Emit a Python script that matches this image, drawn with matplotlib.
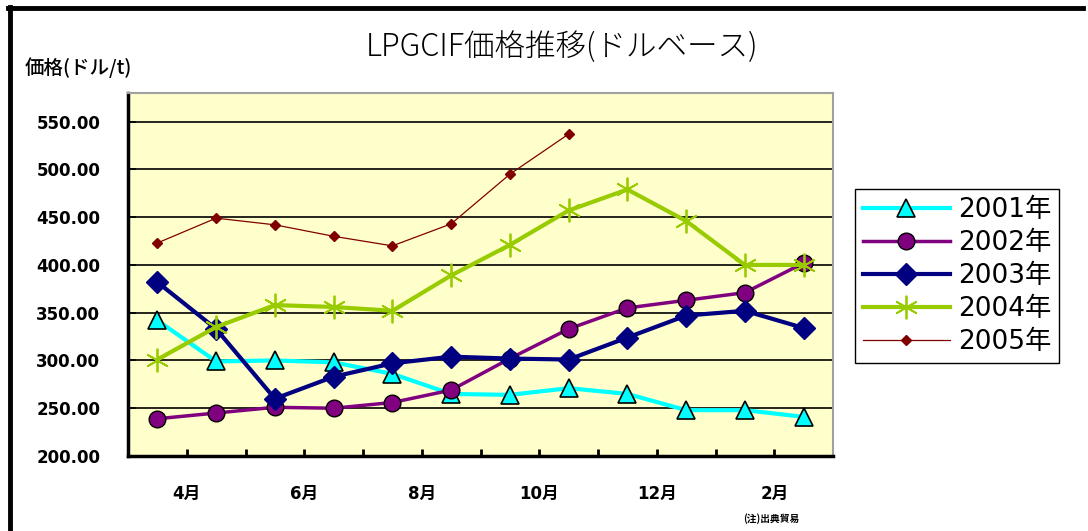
import matplotlib
matplotlib.use('Agg')
import matplotlib.pyplot as plt
from matplotlib.lines import Line2D
import numpy as np

# ---- data ----
months = ['4月', '5月', '6月', '7月', '8月', '9月', '10月', '11月', '12月', '1月', '2月', '3月']
shown_labels = ['4月', '', '6月', '', '8月', '', '10月', '', '12月', '', '2月']
yticks = [200, 250, 300, 350, 400, 450, 500, 550]
series_names = ['2001年', '2002年', '2003年', '2004年', '2005年']
s2001 = [342, 299, 300, 298, 286, 265, 264, 271, 265, 248, 248, 241]
s2002 = [239, 245, 251, 250, 256, 269, 302, 333, 355, 363, 371, 402]
s2003 = [382, 333, 260, 283, 297, 304, 302, 301, 324, 347, 352, 334]
s2004 = [301, 335, 358, 356, 352, 389, 421, 457, 479, 446, 400, 400]
s2005 = [423, 449, 442, 430, 420, 443, 495, 537]

W, H = 1088, 531
fig = plt.figure(figsize=(W / 100, H / 100), dpi=100)
fig.patch.set_facecolor('white')

L, R, T, B = 128, 833, 93, 456
ax = fig.add_axes([L / W, 1 - B / H, (R - L) / W, (B - T) / H])
ax.set_facecolor('#FFFFCC')

styles = [
    dict(color='#00FFFF', lw=3, marker='^', ms=13, mfc='#00FFFF', mec='black', mew=1.2),
    dict(color='#800080', lw=2.5, marker='o', ms=12, mfc='#800080', mec='black', mew=1.0),
    dict(color='#000080', lw=3, marker='D', ms=11, mfc='#000080', mec='#000080', mew=1.0),
    dict(color='#99CC00', lw=3, marker=(6, 2, 0), ms=17, mfc='#99CC00', mec='#99CC00', mew=1.3),
    dict(color='#800000', lw=0.9, marker='D', ms=5.5, mfc='#800000', mec='#800000', mew=1.0),
]
data = [s2001, s2002, s2003, s2004, s2005]
handles = []
for i, (vals, st, name) in enumerate(zip(data, styles, series_names)):
    x = np.arange(len(vals))
    h, = ax.plot(x, vals, label=name, zorder=3 + i, clip_on=False, **st)
    handles.append(h)

ax.set_xlim(-0.5, len(months) - 0.5)
ax.set_ylim(200, 580)
ax.set_yticks(yticks)
ax.set_yticklabels([f'{v:.2f}' for v in yticks], fontsize=12, fontweight='semibold',
                   family=['DejaVu Sans'])
bounds = np.arange(len(months) - 1) + 0.5
ax.set_xticks(bounds)
ax.set_xticklabels(shown_labels, fontsize=12, fontweight='bold',
                   family=['DejaVu Sans', 'Noto Sans CJK JP'])
ax.tick_params(axis='y', direction='in', length=6, width=1.2, pad=20, colors='black')
ax.tick_params(axis='x', direction='in', length=5, width=2, pad=21, colors='black')
ax.yaxis.grid(True, color='black', lw=1.2)
ax.set_axisbelow(True)

for s in ['left', 'bottom']:
    ax.spines[s].set_color('black')
    ax.spines[s].set_linewidth(2.5)
for s in ['top', 'right']:
    ax.spines[s].set_color('#a0a0a0')
    ax.spines[s].set_linewidth(1.5)

# title and axis label
fig.text(0.517, 1 - 47 / H, 'LPGCIF価格推移(ドルベース)', ha='center', va='center',
         fontsize=22, fontweight='light', family=['Noto Sans CJK JP', 'DejaVu Sans'],
         color='black')
fig.text(25 / W, 1 - 68 / H, '価格(ドル/t)', ha='left', va='center',
         fontsize=14, fontweight='medium', family=['Noto Sans CJK JP', 'DejaVu Sans'])
fig.text(743 / W, 1 - 519 / H, '(注)出典貿易', ha='left', va='center',
         fontsize=7, fontweight='bold', family=['Noto Sans CJK JP', 'DejaVu Sans'])

leg = fig.legend(handles=handles, loc='upper left',
                 bbox_to_anchor=(855 / W, 1 - 189 / H), bbox_transform=fig.transFigure,
                 borderaxespad=0, fancybox=False, framealpha=1, edgecolor='black',
                 prop={'family': ['DejaVu Sans', 'Noto Sans CJK JP'], 'size': 19},
                 handlelength=3.3, handletextpad=0.3, labelspacing=0.27, borderpad=0.3)
leg.get_frame().set_linewidth(1.0)

# outer border (left and top)
fig.add_artist(Line2D([10 / W, 10 / W], [0, 1 - 7 / H], transform=fig.transFigure,
                      color='black', lw=3.5))
fig.add_artist(Line2D([8 / W, 1083 / W], [1 - 8 / H, 1 - 8 / H], transform=fig.transFigure,
                      color='black', lw=3.5))

fig.savefig('out.png', dpi=100)
